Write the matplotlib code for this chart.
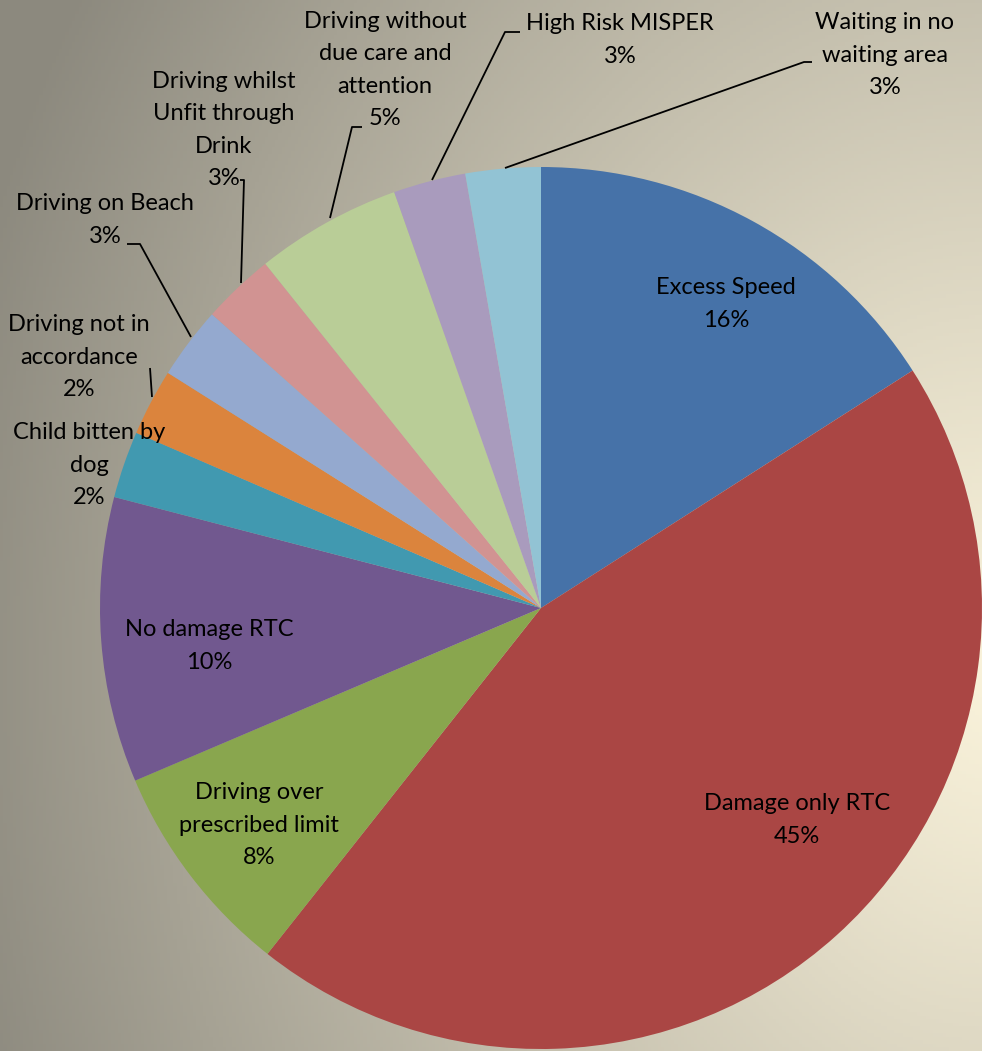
import numpy as np
import matplotlib.pyplot as plt
from matplotlib.colors import to_rgb

# incident categories (clockwise from 12 o'clock) and their share
categories = [
    "Excess Speed",
    "Damage only RTC",
    "Driving over\nprescribed limit",
    "No damage RTC",
    "Child bitten by\ndog",
    "Driving not in\naccordance",
    "Driving on Beach",
    "Driving whilst\nUnfit through\nDrink",
    "Driving without\ndue care and\nattention",
    "High Risk MISPER",
    "Waiting in no\nwaiting area",
]
shares = [15.95, 44.7, 7.95, 10.45, 2.45, 2.45, 2.65, 2.65, 5.35, 2.65, 2.75]

colors = ["#4672A8", "#AA4644", "#89A64E", "#71588F", "#4199B0", "#DB843D",
          "#94A9CF", "#D19392", "#B9CD97", "#A99BBD", "#92C3D4"]

W, H = 982, 1051
fig = plt.figure(figsize=(W / 100, H / 100), dpi=100)

# background: warm gradient, light cream on the right fading to grey on the left
bg = fig.add_axes([0, 0, 1, 1])
yy, xx = np.mgrid[0:1:300j, 0:1:300j]
d = np.sqrt((xx - 1.02) ** 2 + ((yy - 0.64) / 1.15) ** 2)
t = np.clip(d / 1.1, 0, 1) ** 1.1
c_in = np.array(to_rgb("#FAF3DB"))
c_out = np.array(to_rgb("#8C897E"))
img = c_in[None, None, :] * (1 - t[..., None]) + c_out[None, None, :] * t[..., None]
bg.imshow(img, extent=[0, 1, 0, 1], aspect="auto", origin="upper")
bg.axis("off")

ax = fig.add_axes([0, 0, 1, 1])
ax.patch.set_alpha(0)

cx, cy, r = 541, H - 608, 441
wedges, _ = ax.pie(shares, colors=colors, startangle=90, counterclock=False,
                   center=(cx, cy), radius=r, frame=True,
                   wedgeprops=dict(linewidth=0, antialiased=True))
ax.set_xlim(0, W)
ax.set_ylim(0, H)
ax.set_aspect("equal")
ax.axis("off")

total = sum(shares)
pcts = [f"{round(s / total * 100):.0f}%" for s in shares]

# label centres in pixel coords (x, y from top)
label_pos = [(726, 304), (797, 820), (259, 825), (209, 646), (89, 465),
             (79, 357), (105, 220), (224, 130), (385, 70), (620, 40), (885, 55)]

font = ["Lato", "DejaVu Sans"]
for name, p, (lx, ly) in zip(categories, pcts, label_pos):
    ax.text(lx, H - ly, f"{name}\n{p}", ha="center", va="center",
            fontsize=17, family=font, color="black", linespacing=1.68)

# leader lines for the small outside slices
leaders = [
    [(152, 397), (150, 368)],
    [(191, 337), (140, 244), (127, 244)],
    [(241, 283), (244, 180), (240, 180)],
    [(330, 218), (352, 127), (362, 127)],
    [(432, 180), (505, 32), (520, 32)],
    [(505, 168), (804, 62), (812, 62)],
]
for pts in leaders:
    xs = [p[0] for p in pts]
    ys = [H - p[1] for p in pts]
    ax.plot(xs, ys, color="black", linewidth=1.3, solid_capstyle="butt")

fig.savefig("out.png", dpi=100)
